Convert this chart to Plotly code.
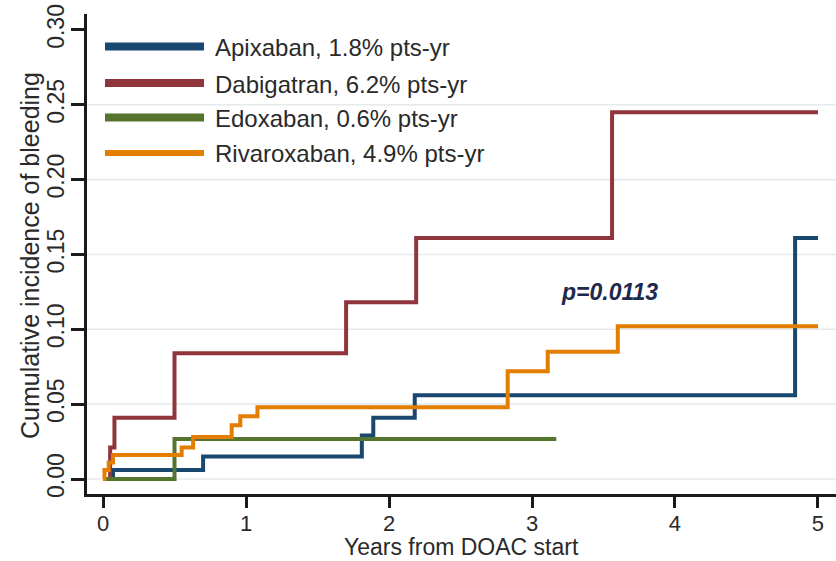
import plotly.graph_objects as go

# ---- data ----
series_names = ["Apixaban, 1.8% pts-yr", "Dabigatran, 6.2% pts-yr",
                "Edoxaban, 0.6% pts-yr", "Rivaroxaban, 4.9% pts-yr"]
series_colors = ["#1a476f", "#90353b", "#55752f", "#e37e00"]

apixaban_t = [0, 0.07, 0.70, 1.81, 1.89, 2.18, 4.84, 5.0]
apixaban_v = [0, 0.006, 0.015, 0.029, 0.041, 0.056, 0.161, 0.161]

dabigatran_t = [0, 0.05, 0.08, 0.50, 1.70, 2.19, 3.56, 5.0]
dabigatran_v = [0, 0.021, 0.041, 0.084, 0.118, 0.161, 0.245, 0.245]

edoxaban_t = [0, 0.50, 3.17]
edoxaban_v = [0, 0.0268, 0.0268]

rivaroxaban_t = [0, 0.01, 0.04, 0.07, 0.55, 0.63, 0.90, 0.96, 1.08, 2.83, 3.11, 3.60, 5.0]
rivaroxaban_v = [0, 0.006, 0.011, 0.016, 0.021, 0.028, 0.036, 0.042, 0.048, 0.072, 0.085, 0.102, 0.102]

x_ticks = [0, 1, 2, 3, 4, 5]
y_ticks = [0, 0.05, 0.10, 0.15, 0.20, 0.25, 0.30]
y_grid = [0, 0.05, 0.10, 0.15, 0.20, 0.25]
x_title = "Years from DOAC start"
y_title = "Cumulative incidence of bleeding"
p_text = "p=0.0113"
p_pos = (3.54, 0.125)

# ---- layout constants ----
W, H = 836, 561
ML, MR, MT, MB = 87, 0, 14, 67
PW, PH = W - ML - MR, H - MT - MB
FONT = "Liberation Sans, Arial, sans-serif"
TXT = "#2a2a2a"
AX = "#1a1a1a"

def px_x(px):
    return (px - ML) / PW

def px_y(py):
    return (H - MB - py) / PH

fig = go.Figure()

all_t = [apixaban_t, dabigatran_t, edoxaban_t, rivaroxaban_t]
all_v = [apixaban_v, dabigatran_v, edoxaban_v, rivaroxaban_v]

shapes = []
for g in y_grid:
    shapes.append(dict(type="line", xref="paper", yref="y", x0=0, x1=1, y0=g, y1=g,
                       line=dict(color="#e4eaee", width=1.6), layer="below"))

for name, col, t, v in zip(series_names, series_colors, all_t, all_v):
    fig.add_trace(go.Scatter(x=t, y=v, mode="lines", name=name,
                             line=dict(color=col, width=4, shape="hv"),
                             showlegend=False, hoverinfo="skip"))

# custom legend (long swatches like the original)
leg_y = [46.5, 83, 117.5, 153]
leg_w = [8, 8, 8, 6]
annotations = []
for name, col, yy, lw in zip(series_names, series_colors, leg_y, leg_w):
    shapes.append(dict(type="line", xref="paper", yref="paper",
                       x0=px_x(105), x1=px_x(204), y0=px_y(yy), y1=px_y(yy),
                       line=dict(color=col, width=lw)))
    annotations.append(dict(xref="paper", yref="paper", x=px_x(213), y=px_y(yy + 1),
                            text=name, showarrow=False, xanchor="left", yanchor="middle",
                            font=dict(family=FONT, size=24, color=TXT)))

annotations.append(dict(x=p_pos[0], y=p_pos[1], xref="x", yref="y", text="<b><i>" + p_text + "</i></b>",
                        showarrow=False, xanchor="center", yanchor="middle",
                        font=dict(family=FONT, size=23, color="#1d2a4c")))

# axis titles placed precisely
annotations.append(dict(xref="paper", yref="paper", x=px_x(461), y=px_y(561), text=x_title,
                        showarrow=False, xanchor="center", yanchor="bottom", borderpad=0,
                        font=dict(family=FONT, size=23, color=TXT)))
annotations.append(dict(xref="paper", yref="paper", x=px_x(30), y=px_y(256), text=y_title,
                        showarrow=False, xanchor="center", yanchor="middle", textangle=-90,
                        font=dict(family=FONT, size=25, color=TXT)))

fig.update_layout(
    width=W, height=H,
    margin=dict(l=ML, r=MR, t=MT, b=MB, pad=0),
    paper_bgcolor="white", plot_bgcolor="white",
    font=dict(family=FONT, color=TXT),
    shapes=shapes, annotations=annotations,
    xaxis=dict(range=[-0.112, 5.126], tickvals=x_ticks, ticks="outside", ticklen=11, tickwidth=3,
               tickcolor=AX, showline=True, linecolor=AX, linewidth=3, showgrid=False, zeroline=False,
               tickfont=dict(family=FONT, size=22, color=TXT), ticklabelstandoff=-3, automargin=False),
    yaxis=dict(range=[-0.0100, 0.3106], tickvals=y_ticks, tickformat=".2f", ticks="outside", ticklen=13,
               tickwidth=3, tickcolor=AX, showline=True, linecolor=AX, linewidth=3, showgrid=False,
               zeroline=False, tickangle=-90, ticklabelstandoff=-2, automargin=False,
               tickfont=dict(family=FONT, size=23, color=TXT)),
)

fig.write_html("out.html", config={"displayModeBar": False},
               post_script="document.body.style.margin='0';document.body.style.overflow='hidden';")
